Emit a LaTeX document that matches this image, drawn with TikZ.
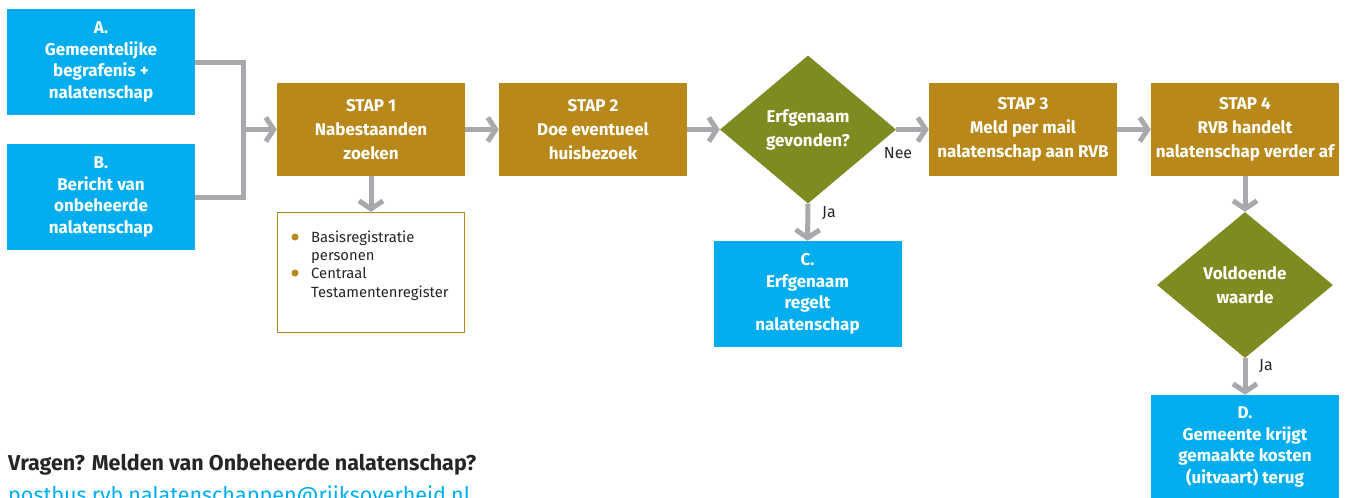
\documentclass[tikz,border=0pt]{standalone}
\usepackage{fontspec}
\setmainfont{Fira Sans}
\usetikzlibrary{shapes.geometric,arrows.meta}
\definecolor{rblue}{HTML}{00AEEF}
\definecolor{rgold}{HTML}{B8881A}
\definecolor{rolive}{HTML}{7F8A21}
\definecolor{rgray}{HTML}{A8A9AD}
\definecolor{rtext}{HTML}{262626}
\begin{document}
\begin{tikzpicture}[x=1pt,y=-1pt,
  bluebox/.style={fill=rblue, text=white, font=\fontsize{17}{21.5}\selectfont\bfseries, align=center, inner sep=0pt, minimum width=188pt, minimum height=106pt},
  goldbox/.style={fill=rgold, text=white, font=\fontsize{17}{24}\selectfont\bfseries, align=center, inner sep=0pt, minimum width=188pt, minimum height=93pt},
  choice/.style={diamond, fill=rolive, text=white, font=\fontsize{17}{24}\selectfont\bfseries, align=center, inner sep=0pt, minimum width=176pt, minimum height=148pt},
  conn/.style={draw=rgray, line width=5pt, line join=miter},
  arr/.style={conn, -{Straight Barb[length=8pt,width=24pt]}},
  lbl/.style={text=rtext, font=\fontsize{16}{18}\selectfont, inner sep=1pt},
  item/.style={text=rtext, font=\fontsize{14.8}{16}\selectfont, anchor=base west, inner sep=0pt}
]
\useasboundingbox (0,0) rectangle (1345,498);

\node[bluebox] (A) at (101,62) {A.\\Gemeentelijke\\begrafenis +\\nalatenschap};
\node[bluebox] (B) at (101,197) {B.\\Bericht van\\onbeheerde\\nalatenschap};
\node[goldbox] (S1) at (371,129.5) {STAP 1\\Nabestaanden\\zoeken};
\node[goldbox] (S2) at (593,129.5) {STAP 2\\Doe eventueel\\huisbezoek};
\node[choice] (Q1) at (808,129.5) {Erfgenaam\\gevonden?};
\node[goldbox] (S3) at (1023,129.5) {STAP 3\\Meld per mail\\nalatenschap aan RVB};
\node[goldbox] (S4) at (1245,129.5) {STAP 4\\RVB handelt\\nalatenschap verder af};
\node[choice, minimum height=146pt] (Q2) at (1245,285) {Voldoende\\waarde};
\node[bluebox] (C) at (807.5,294) {C.\\Erfgenaam\\regelt\\nalatenschap};
\node[bluebox, minimum height=104pt] (D) at (1245,447) {D.\\Gemeente krijgt\\gemaakte kosten\\(uitvaart) terug};

\node[draw=rgold, line width=1.3pt, fill=white, minimum width=187pt, minimum height=120pt, inner sep=0pt] (L) at (371,272.5) {};
\fill[rgold] (295,237) circle (3.5pt);
\fill[rgold] (295,273) circle (3.5pt);
\node[item] (l1) at (311,242) {Basisregistratie};
\node[item] (l2) at (311,260) {personen};
\node[item] (l3) at (311,278) {Centraal};
\node[item] (l4) at (311,297) {Testamentenregister};

\coordinate (jm) at (243,129.5);
\draw[conn] (A.east) -| (jm) |- (B.east);
\draw[arr] (jm) -- (S1.west);
\draw[arr] (S1) -- (S2);
\draw[arr] (S2) -- (Q1);
\draw[arr] (Q1) -- (S3);
\draw[arr] (S3) -- (S4);
\draw[arr] (S1.south) -- (L.north);
\draw[arr] (Q1.south) -- (C.north);
\draw[arr] (S4.south) -- (Q2.north);
\draw[arr] (Q2.south) -- (D.north);

\node[lbl] (nee) at (898,153) {Nee};
\node[lbl] (ja1) at (829,213) {Ja};
\node[lbl] (ja2) at (1266,366) {Ja};

\node[anchor=base west, inner sep=0pt, text=rtext, font=\fontsize{21.5}{24}\selectfont\bfseries] (q) at (8,470) {Vragen? Melden van Onbeheerde nalatenschap?};
\node[anchor=base west, inner sep=0pt, text=rblue, font=\fontsize{21.5}{24}\selectfont] (mail) at (8,502) {postbus.rvb.nalatenschappen@rijksoverheid.nl};
\end{tikzpicture}
\end{document}
